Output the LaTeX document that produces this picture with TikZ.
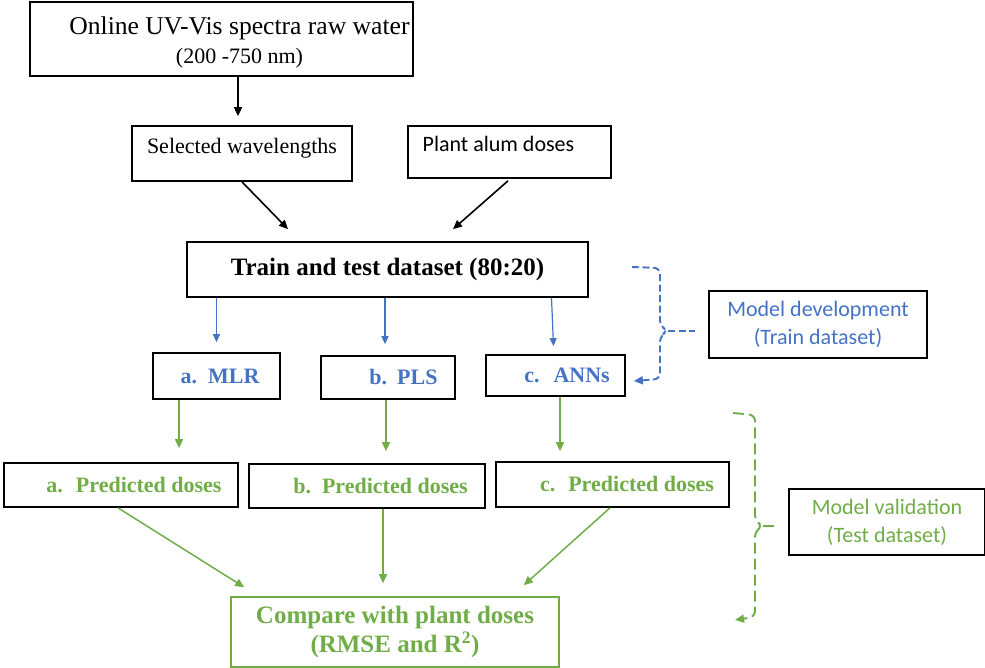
\documentclass[tikz,border=0pt]{standalone}
\usepackage{fontspec}
\setmainfont{Liberation Serif}
\newfontfamily\calib{Carlito}
\usetikzlibrary{arrows.meta,calc}
\definecolor{ublue}{HTML}{4472C4}
\definecolor{ugreen}{HTML}{70AD47}
\begin{document}
\begin{tikzpicture}[x=1pt,y=-1pt,
  box/.style 2 args={draw=black, line width=1.7pt, inner sep=0pt,
    minimum width=#1, minimum height=#2, font=\fontsize{22}{27}\selectfont},
  karrow/.style={draw=black, line width=1.6pt, -{Triangle[length=9pt,width=8pt]}},
  barrow/.style={draw=ublue, line width=1.2pt, -{Triangle[length=8pt,width=7pt]}},
  garrow/.style={draw=ugreen, line width=1.5pt, -{Triangle[length=9pt,width=8pt]}},
  bluebrace/.style={draw=ublue, line width=1.9pt, dash pattern=on 7pt off 3.5pt, rounded corners=6pt},
  greenbrace/.style={draw=ugreen, line width=1.9pt, dash pattern=on 11pt off 5pt, rounded corners=6pt},
  bluetxt/.style={text=ublue, font=\fontsize{22}{27}\selectfont\bfseries},
  greentxt/.style={text=ugreen, font=\fontsize{22}{27}\selectfont\bfseries},
  raised/.style={text height=15pt, text depth=15pt}]
\useasboundingbox (0,0) rectangle (985,668);

% input and data boxes
\node[box={383pt}{74pt}, align=center, font=\fontsize{25.6}{30}\selectfont] (top) at (221.5,39)
  {\hspace*{36pt}\rule{0pt}{25pt}Online UV-Vis spectra raw water\\[-1pt]%
   \hspace*{36pt}{\fontsize{22}{25}\selectfont (200 -750 nm)}};
\node[box={220pt}{55pt}, raised] (sel) at (242,153.5) {Selected wavelengths};
\node[box={203pt}{52pt}, raised, font=\calib\fontsize{22}{27}\selectfont] (plant) at (509.5,152)
  {Plant alum doses\hspace*{22pt}};
\node[box={401pt}{55pt}, font=\fontsize{25}{30}\selectfont\bfseries] (train) at (387.5,269.5)
  {Train and test dataset (80:20)};

% models
\node[box={127pt}{46pt}, bluetxt] (mlr) at (216.5,376) {\hspace*{7pt}a.\hspace{11pt}MLR};
\node[box={134pt}{43pt}, bluetxt] (pls) at (388,377.5) {\hspace*{31pt}b.\hspace{10pt}PLS};
\node[box={139pt}{41pt}, bluetxt] (ann) at (555.5,375.5) {\hspace*{23pt}c.\hspace{14pt}ANNs};

% predictions
\node[box={234pt}{44pt}, greentxt] (pa) at (121,485) {\hspace*{26pt}a.\hspace{13pt}Predicted doses};
\node[box={236pt}{44pt}, greentxt] (pb) at (367,486) {\hspace*{27pt}b.\hspace{11pt}Predicted doses};
\node[box={233pt}{45pt}, greentxt] (pc) at (612.5,484.5) {\hspace*{29pt}c.\hspace{13pt}Predicted doses};

% comparison
\node[box={328pt}{70pt}, draw=ugreen, line width=1.6pt, align=center,
  text=ugreen, font=\fontsize{25}{29}\selectfont\bfseries] (cmp) at (395,632)
  {Compare with plant doses\\(RMSE and R\textsuperscript{2})};

% side labels
\node[box={218pt}{67pt}, align=center, text=ublue, font=\calib\fontsize{22}{28}\selectfont] (md) at (818,324.5)
  {Model development\\(Train dataset)};
\node[box={196pt}{66pt}, align=center, text=ugreen, font=\calib\fontsize{22}{28}\selectfont] (mv) at (887,522)
  {Model validation\\(Test dataset)};

% black flow
\draw[karrow] ($(top.south)+(16.5,0)$) -- ($(sel.north)+(-4,-9)$);
\draw[karrow] (sel.south) -- ($(train.north)+(-99.5,-12)$);
\draw[karrow] ($(plant.south)+(-1.5,2)$) -- ($(train.north)+(65.5,-12)$);

% blue flow
\draw[barrow] (train.south -| mlr.north) -- ($(mlr.north)+(0,-10)$);
\draw[barrow] ($(train.south -| pls.north)+(-3,0)$) -- ($(pls.north)+(-3,-11)$);
\draw[barrow] ($(train.south -| ann.north)+(-4,0)$) -- ($(ann.north)+(-2,-8)$);

% green flow
\draw[garrow] ($(mlr.south)+(-37.5,0)$) -- ($(mlr.south |- pa.north)+(-37.5,-14)$);
\draw[garrow] ($(pls.south)+(-2,0)$) -- ($(pls.south |- pb.north)+(-2,-12)$);
\draw[garrow] ($(ann.south)+(4.5,0)$) -- ($(ann.south |- pc.north)+(4.5,-10)$);
\draw[garrow] ($(pa.south)+(-3,0)$) -- ($(cmp.north west)+(14,-9)$);
\draw[garrow] ($(pb.south)+(16,0)$) -- ($(cmp.north)+(-12,-13)$);
\draw[garrow] ($(pc.south)+(-2.5,0)$) -- ($(cmp.north east)+(-36,-11)$);

% braces
\coordinate (btop) at (632,267);
\coordinate (btip) at (668,331);
\coordinate (gtop) at (733,413);
\coordinate (gtip) at (763,526);
\coordinate (gend) at (735,620);
\draw[bluebrace, -{Triangle[length=9pt,width=8pt]}]
  (btop) -- (660,268) -- (660,326) -- (btip) -- (660,336) -- (660,379) -- ($(ann.east)+(8,5.5)$);
\draw[bluebrace] (btip) -- ($(md.west)+(-13,6.5)$);
\draw[greenbrace, -{Triangle[length=9pt,width=8pt]}]
  (gtop) -- (755,415) -- (755,521) -- (gtip) -- (755,531) -- (755,617) -- (gend);
\draw[greenbrace] (gtip) -- ($(mv.west)+(-12,4)$);
\end{tikzpicture}
\end{document}
